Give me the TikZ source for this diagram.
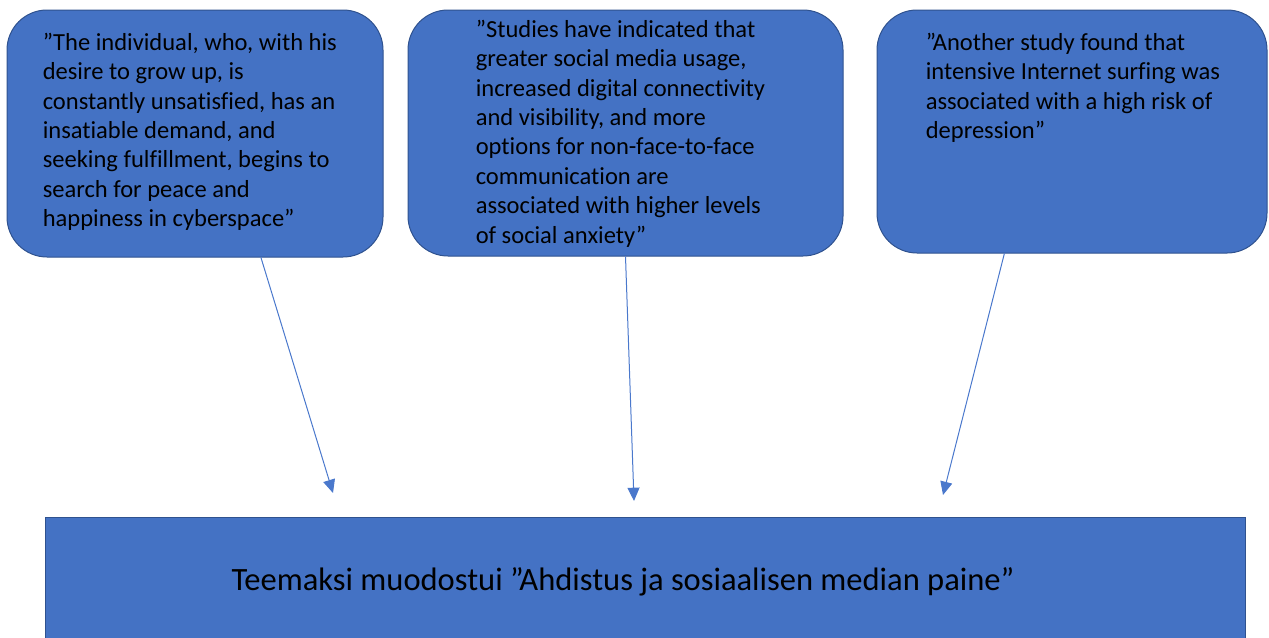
\documentclass[tikz,border=0pt]{standalone}
\usepackage{fontspec}
\setmainfont[Ligatures=NoCommon]{Carlito}
\usetikzlibrary{arrows.meta}

\begin{document}
\begin{tikzpicture}[x=0.75pt,y=-0.75pt,
  quotebox/.style={draw=boxline,fill=boxfill,line width=0.75pt,rounded corners=30pt,inner sep=0pt},
  quotetext/.style={anchor=north west,align=left,inner sep=0pt,text=black,font=\fontsize{18.4}{22.1}\selectfont},
  themebox/.style={draw=boxline,fill=boxfill,line width=0.75pt,inner sep=0pt},
  link/.style={draw=linkblue,line width=0.75pt,-{Triangle[length=10pt,width=9pt]}}]
\definecolor{boxfill}{HTML}{4472C4}\definecolor{boxline}{HTML}{2F528F}
\definecolor{linkblue}{HTML}{4A78CC}
\useasboundingbox (0,0) rectangle (1269,637);
% the three quotations
\node[quotebox,minimum width=282pt,minimum height=185.25pt] (b1) at (195,133.5) {};
\node[quotebox,minimum width=326.25pt,minimum height=184.5pt] (b2) at (625.5,133) {};
\node[quotebox,minimum width=292.5pt,minimum height=182.25pt] (b3) at (1072,131.5) {};
\node[quotetext] (t1) at ([shift={(36,23)}]b1.north west) {”The individual, who, with his\\desire to grow up, is\\constantly unsatisfied, has an\\insatiable demand, and\\seeking fulfillment, begins to\\search for peace and\\happiness in cyberspace”};
\node[quotetext] (t2) at ([shift={(68,10)}]b2.north west) {”Studies have indicated that\\greater social media usage,\\increased digital connectivity\\and visibility, and more\\options for non-face-to-face\\communication are\\associated with higher levels\\of social anxiety”};
\node[quotetext] (t3) at ([shift={(49,23)}]b3.north west) {”Another study found that\\intensive Internet surfing was\\associated with a high risk of\\depression”};
% the theme
\node[themebox,minimum width=900pt,minimum height=92.25pt] (th) at (645,578.5) {};
\node[anchor=base,inner sep=0pt,font=\fontsize{24.4}{30}\selectfont] (tt) at (623,590) {Teemaksi muodostui ”Ahdistus ja sosiaalisen median paine”};
\coordinate (e1) at (333,493);
\coordinate (e2) at (634,501);
\coordinate (e3) at (943,495);
\draw[link] (b1.-62.2) -- (e1);
\draw[link] (b2.-90.7) -- (e2);
\draw[link] (b3.-119.6) -- (e3);
\end{tikzpicture}
\end{document}
